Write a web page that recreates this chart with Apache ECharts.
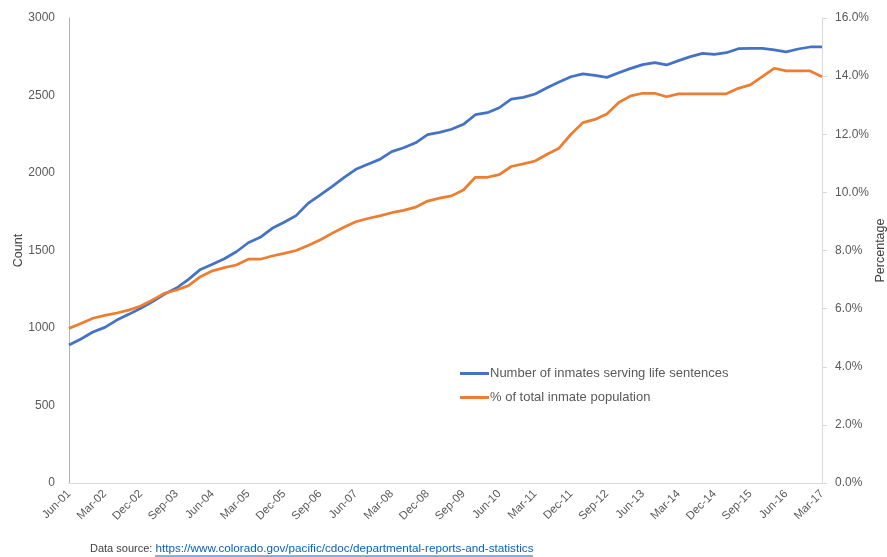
<!DOCTYPE html>
<html>
<head>
<meta charset="utf-8">
<script src="https://cdn.jsdelivr.net/npm/echarts@6/dist/echarts.min.js"></script>
<style>
  html, body { margin: 0; padding: 0; background: #fff; }
  #chart { width: 887px; height: 557px; }
</style>
</head>
<body>
<div id="chart"></div>
<script>
// quarterly, Jun-01 .. Mar-17
const quarters = [
  "Jun-01", "Sep-01", "Dec-01",
  "Mar-02", "Jun-02", "Sep-02", "Dec-02",
  "Mar-03", "Jun-03", "Sep-03", "Dec-03",
  "Mar-04", "Jun-04", "Sep-04", "Dec-04",
  "Mar-05", "Jun-05", "Sep-05", "Dec-05",
  "Mar-06", "Jun-06", "Sep-06", "Dec-06",
  "Mar-07", "Jun-07", "Sep-07", "Dec-07",
  "Mar-08", "Jun-08", "Sep-08", "Dec-08",
  "Mar-09", "Jun-09", "Sep-09", "Dec-09",
  "Mar-10", "Jun-10", "Sep-10", "Dec-10",
  "Mar-11", "Jun-11", "Sep-11", "Dec-11",
  "Mar-12", "Jun-12", "Sep-12", "Dec-12",
  "Mar-13", "Jun-13", "Sep-13", "Dec-13",
  "Mar-14", "Jun-14", "Sep-14", "Dec-14",
  "Mar-15", "Jun-15", "Sep-15", "Dec-15",
  "Mar-16", "Jun-16", "Sep-16", "Dec-16",
  "Mar-17"
];

// number of inmates serving life sentences
const lifeInmates = [
  890, 929, 974, 1004, 1051, 1088, 1127, 1170, 1219, 1258,
  1314, 1378, 1411, 1447, 1492, 1550, 1585, 1643, 1682, 1725,
  1804, 1858, 1912, 1970, 2024, 2056, 2088, 2138, 2163, 2195,
  2247, 2262, 2282, 2314, 2376, 2389, 2421, 2477, 2488, 2510,
  2550, 2587, 2621, 2639, 2630, 2617, 2647, 2675, 2699, 2712,
  2697, 2725, 2751, 2772, 2766, 2776, 2802, 2804, 2804, 2794,
  2781, 2800, 2813, 2813
];

// % of total inmate population
const pctOfTotal = [
  5.32, 5.49, 5.67, 5.77, 5.85, 5.95, 6.09, 6.30, 6.53, 6.64,
  6.79, 7.10, 7.30, 7.41, 7.50, 7.70, 7.70, 7.81, 7.90, 8.00,
  8.17, 8.36, 8.59, 8.80, 8.99, 9.10, 9.19, 9.30, 9.38, 9.49,
  9.70, 9.80, 9.88, 10.08, 10.52, 10.52, 10.61, 10.89, 10.98, 11.08,
  11.31, 11.52, 12.00, 12.40, 12.51, 12.70, 13.09, 13.32, 13.41, 13.41,
  13.29, 13.39, 13.39, 13.39, 13.39, 13.39, 13.58, 13.70, 13.98, 14.27,
  14.18, 14.18, 14.18, 13.98
];

const seriesNames = ["Number of inmates serving life sentences", "% of total inmate population"];
const sourceLabel = "Data source: ";
const sourceUrl = "https://www.colorado.gov/pacific/cdoc/departmental-reports-and-statistics";

const font = "'Liberation Sans', Arial, sans-serif";
const textColor = "#595959";
const colors = ["#4472C4", "#ED7D31"];

const chart = echarts.init(document.getElementById("chart"));
chart.setOption({
  animation: false,
  color: colors,
  textStyle: { fontFamily: font },
  grid: { left: 69, right: 65, top: 18, bottom: 74, outerBoundsMode: "none", containLabel: false },
  legend: {
    orient: "vertical",
    left: 455,
    top: 362,
    itemWidth: 29,
    itemHeight: 3,
    itemGap: 11,
    icon: "rect",
    textStyle: { fontFamily: font, fontSize: 13, color: textColor, padding: [0, 0, 0, -4] },
    data: seriesNames
  },
  xAxis: {
    type: "category",
    data: quarters,
    boundaryGap: false,
    axisLine: { lineStyle: { color: "#d9d9d9", width: 1 } },
    axisTick: { show: false },
    axisLabel: {
      interval: 2,
      rotate: 45,
      margin: 9,
      fontSize: 11.5,
      color: textColor,
      fontFamily: font
    }
  },
  yAxis: [
    {
      type: "value",
      min: 0,
      max: 3000,
      interval: 500,
      name: "Count",
      nameLocation: "middle",
      nameGap: 44,
      nameMoveOverlap: false,
      nameTextStyle: { fontSize: 12.5, color: "#404040", fontFamily: font },
      axisLine: { show: true, lineStyle: { color: "#b3b3b3" } },
      axisTick: { show: false },
      splitLine: { show: false },
      axisLabel: { fontSize: 12, color: textColor, margin: 14, fontFamily: font, formatter: v => String(v) }
    },
    {
      type: "value",
      min: 0,
      max: 16,
      interval: 2,
      position: "right",
      name: "Percentage",
      nameLocation: "middle",
      nameGap: 52,
      nameMoveOverlap: false,
      nameTextStyle: { fontSize: 12.5, color: "#404040", fontFamily: font },
      axisLine: { show: true, lineStyle: { color: "#d9d9d9" } },
      axisTick: { show: true, length: 5, lineStyle: { color: "#d9d9d9" } },
      splitLine: { show: false },
      axisLabel: {
        fontSize: 12,
        color: textColor,
        margin: 13,
        fontFamily: font,
        formatter: v => v.toFixed(1) + "%"
      }
    }
  ],
  series: [
    {
      name: seriesNames[0],
      type: "line",
      data: lifeInmates,
      symbol: "none",
      lineStyle: { width: 2.75 }
    },
    {
      name: seriesNames[1],
      type: "line",
      yAxisIndex: 1,
      data: pctOfTotal,
      symbol: "none",
      lineStyle: { width: 2.75 }
    }
  ],
  graphic: [
    {
      type: "text",
      left: 90,
      top: 543,
      style: {
        text: "{a|" + sourceLabel + "}{b|" + sourceUrl + "}",
        rich: {
          a: { fontSize: 11, fill: "#404040", fontFamily: font },
          b: { fontSize: 11.7, fill: "#0563C1", fontFamily: font }
        }
      }
    },
    {
      type: "line",
      shape: { x1: 155, y1: 556, x2: 533, y2: 556 },
      style: { stroke: "#0563C1", lineWidth: 1 }
    }
  ]
});
</script>
</body>
</html>
